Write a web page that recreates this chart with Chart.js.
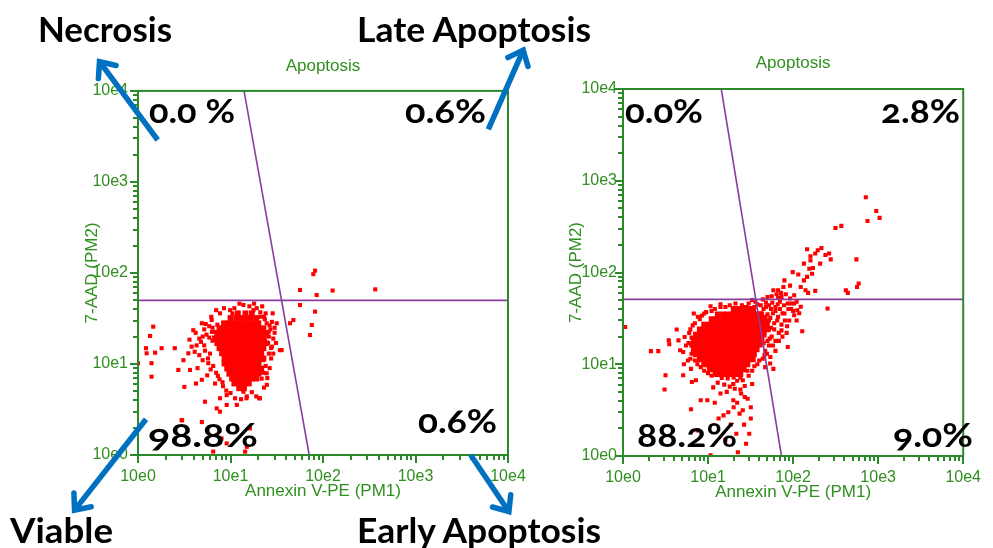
<!DOCTYPE html>
<html>
<head>
<meta charset="utf-8">
<title>Apoptosis</title>
<script src="https://cdn.jsdelivr.net/npm/chart.js@4.4.1/dist/chart.umd.min.js"></script>
<style>
  body { margin: 0; background: #fff; }
  #page { position: relative; width: 993px; height: 548px; overflow: hidden; background: #fff; }
  #leftPlot { position: absolute; left: 0; top: 0; }
  #rightPlot { position: absolute; left: 560px; top: 0; }
  #overlay { position: absolute; left: 0; top: 0; pointer-events: none; }
  #overlay text { font-family: Lato, 'Open Sans', sans-serif; font-weight: bold; fill: #000; }
  #overlay text.pct { font-variant-numeric: oldstyle-nums; font-feature-settings: "onum" 1; }
</style>
</head>
<body>
<div id="page">
  <canvas id="leftPlot" width="560" height="548"></canvas>
  <canvas id="rightPlot" width="433" height="548"></canvas>
  <svg id="overlay" width="993" height="548" xmlns="http://www.w3.org/2000/svg"></svg>
</div>
<script>
// ---- 축 / 라벨 ----
const plotTitle = 'Apoptosis';
const xAxisTitle = 'Annexin V-PE (PM1)';
const yAxisTitle = '7-AAD (PM2)';
const decadeValues = [1, 10, 100, 1000, 10000];
const decadeLabels = ['10e0', '10e1', '10e2', '10e3', '10e4'];
const minorSteps = [2, 3, 4, 5, 6, 7, 8, 9];

// ---- 게이트 (사분면 경계) ----
const leftGateY = 50;
const leftGateSlant = [[71, 1], [14, 10000]];
const rightGateY = 51;
const rightGateSlant = [[73, 1], [14.3, 10000]];

// ---- 사분면 비율: 좌상, 우상, 좌하, 우하 ----
const quadrantNames = ['Necrosis', 'Late Apoptosis', 'Viable', 'Early Apoptosis'];
const leftPercents = ['0.0 %', '0.6%', '98.8%', '0.6%'];
const rightPercents = ['0.0%', '2.8%', '88.2%', '9.0%'];

// ---- 왼쪽 그래프: 밀집 영역 [y, [x...]] ----
const leftCoreRows = [
  [36, [12, 14.5, 17]],
  [32, [10, 11.5, 13, 14.7, 16.6, 19]],
  [28, [8.5, 9.6, 10.8, 12.2, 13.8, 15.6, 17.6, 20]],
  [24.7, [7.6, 8.6, 9.7, 11, 12.4, 14, 15.8, 17.8, 20.1, 22.7]],
  [21.8, [7.2, 8.1, 9.2, 10.4, 11.7, 13.2, 14.9, 16.8, 19, 21.5, 24.3]],
  [19.2, [6.8, 7.7, 8.7, 9.8, 11.1, 12.5, 14.1, 15.9, 18, 20.3, 23]],
  [16.9, [7.2, 8.1, 9.2, 10.4, 11.7, 13.2, 14.9, 16.8, 19, 21.5, 24.3]],
  [14.9, [7.6, 8.6, 9.7, 11, 12.4, 14, 15.8, 17.8, 20.1, 22.7]],
  [13.1, [8.1, 9.2, 10.4, 11.7, 13.2, 14.9, 16.8, 19, 21.5]],
  [11.5, [8.6, 9.7, 11, 12.4, 14, 15.8, 17.8, 20.1, 22.7]],
  [10.1, [8.6, 9.7, 11, 12.4, 14, 15.8, 17.8, 20.1]],
  [8.9, [9.2, 10.4, 11.7, 13.2, 14.9, 16.8, 19, 21.5]],
  [7.8, [9.7, 11, 12.4, 14, 15.8, 17.8, 20.1]],
  [6.9, [10.4, 11.7, 13.2, 14.9, 16.8, 19]],
  [6.1, [11, 12.4, 14, 15.8]],
  [5.4, [12.4, 14]]
];
// 왼쪽 그래프: 흩어진 이벤트 [x, y]
const leftEvents = [
  [1.0, 10.2], [1.22, 14.9], [1.24, 13.1], [1.35, 20.3], [1.46, 25.7], [1.4, 10.2], [1.4, 7.25],
  [1.53, 13.3], [1.8, 14.9], [2.5, 14.9], [2.73, 8.6], [3.1, 11], [3.17, 5.6], [3.5, 13.1],
  [3.65, 8.6], [3.96, 23.5], [4.1, 13.6], [4.23, 6.1], [4.9, 28], [4.9, 6.7], [5.3, 3.85],
  [5.75, 10.2], [6.26, 30.4], [7.7, 36], [9.9, 39], [13.8, 44.5], [17.7, 39], [19.2, 41],
  [20.8, 33], [24.6, 28], [28, 15.5], [22.6, 11], [24.6, 7.9], [20.4, 4.2], [15, 4.4],
  [13.8, 4.96], [11.2, 4.2], [9.1, 4.55], [7.7, 4.2], [7.1, 3.25], [7.7, 2.99], [9.1, 3.55],
  [6.8, 6.1], [11.7, 3.55], [35.7, 14.2], [44, 28], [47.8, 30.4], [56.4, 65], [56.4, 44.4],
  [75.7, 26.8], [72.3, 20.8], [82, 37.6], [85.5, 57.2], [78.6, 97], [82, 106], [127, 64],
  [367, 66], [2.96, 2.42], [4.9, 2.3], [7.1, 1.66], [7.7, 1.4], [9.1, 1.34], [15, 1.23],
  [6.5, 1.09], [14.4, 1.09], [16.2, 1.96], [8, 1.52], [14.9, 4.2], [20.8, 4.2], [24.7, 5.9],
  [21.7, 6.9], [28.6, 36], [31.6, 28], [34.2, 14.2], [3.0, 2.4],
  [5.2, 16], [5.5, 21], [5.9, 26], [6.4, 18], [6, 13], [5.7, 11.5], [6.5, 9.5], [7, 8],
  [7.6, 6.8], [8.3, 5.7], [9, 5.1], [26, 20], [27, 24], [25.5, 17], [26, 13], [27.5, 11.5],
  [24, 9.5], [22.5, 8], [23, 5.5], [17, 4.9], [10.5, 36], [11, 41], [16, 43], [21, 37],
  [23.5, 31], [26.5, 26.5], [29, 19], [30, 22], [6.9, 22.5], [7.2, 27], [6.4, 25],
  [4.3, 16], [4.6, 19], [5, 11], [4.4, 9], [3.8, 15.5], [5.6, 7.5], [5.2, 24], [4.6, 12.5],
  [5.0, 20], [5.4, 27.5], [6.2, 33], [7.0, 39], [8.5, 41], [12.5, 46], [18, 46], [22, 43],
  [24, 36], [28, 29], [30, 25], [31, 17], [29, 13], [26.5, 9], [25, 7], [19, 4.4], [13, 4.1],
  [10, 4.8], [8.2, 6.3], [7.3, 7.4], [6.1, 8.7], [5.3, 14], [4.8, 17.5], [5.9, 19.5],
  [6.3, 22.5], [23, 33], [25.8, 22.5], [27.5, 15], [4.2, 22], [3.6, 18.5]
];

// ---- 오른쪽 그래프: 밀집 영역 [y, [x...]] ----
const rightCoreRows = [
  [40, [20, 23, 26, 30, 34]],
  [35, [13, 15, 17, 19.5, 22, 25, 28.5, 32.5, 37, 42]],
  [31, [11, 12.5, 14.3, 16.3, 18.5, 21, 24, 27.5, 31, 35.5, 40.5, 46]],
  [27, [9, 10.3, 11.7, 13.3, 15.2, 17.3, 19.7, 22.5, 25.6, 29, 33, 37.7, 43, 49]],
  [24, [8, 9.1, 10.4, 11.8, 13.5, 15.4, 17.5, 20, 22.7, 25.9, 29.5, 33.6, 38.3, 43.6, 50]],
  [21, [7.2, 8.2, 9.4, 10.7, 12.2, 13.9, 15.8, 18, 20.5, 23.4, 26.7, 30.4, 34.6, 39.5, 45]],
  [18.6, [6.8, 7.8, 8.9, 10.1, 11.5, 13.1, 15, 17, 19.4, 22.1, 25.2, 28.7, 32.7, 37.3, 42.5]],
  [16.4, [6.5, 7.4, 8.4, 9.6, 10.9, 12.5, 14.2, 16.2, 18.5, 21, 24, 27.3, 31.1, 35.5, 40.5]],
  [14.5, [6.8, 7.8, 8.9, 10.1, 11.5, 13.1, 15, 17, 19.4, 22.1, 25.2, 28.7, 32.7, 37.3]],
  [12.8, [7.2, 8.2, 9.4, 10.7, 12.2, 13.9, 15.8, 18, 20.5, 23.4, 26.7, 30.4, 34.6]],
  [11.3, [8, 9.1, 10.4, 11.8, 13.5, 15.4, 17.5, 20, 22.7, 25.9, 29.5, 33.6]],
  [10, [9, 10.3, 11.7, 13.3, 15.2, 17.3, 19.7, 22.5, 25.6, 29]],
  [8.8, [10.5, 12, 13.7, 15.6, 17.8, 20.3, 23.1, 26.3]],
  [7.8, [12.5, 14.3, 16.3, 18.5, 21, 24]]
];
// 오른쪽 그래프: 흩어진 이벤트 [x, y]
const rightEvents = [
  [1.06, 25.5], [2.13, 13.9], [2.6, 13.9], [3.16, 7.6], [3.08, 5.3], [3.45, 18.2], [3.5, 16.5],
  [4.28, 23.9], [4.49, 18.2], [5.1, 7.6], [6.3, 3.23], [6.45, 6.4], [7.2, 6.7], [7.55, 1.9],
  [6.8, 35.8], [8.2, 4.05], [9.8, 4.05], [10.7, 1.02], [13.3, 2.56], [15.2, 2.77], [17.3, 3.0],
  [19.8, 4.05], [21.5, 1.75], [22.4, 1.1], [23.5, 2.9], [25.6, 3.15], [28, 1.36], [30.5, 1.75],
  [31.8, 2.56], [29.2, 4.2], [31.8, 3.4], [14, 4.8], [16.6, 5.0], [20.6, 5.4], [24.5, 4.8],
  [19.8, 6.1], [33, 6.1], [25.6, 6.7], [53.7, 10.2], [58.6, 8.9], [47, 9.3], [49.3, 13],
  [86.5, 15.4], [128, 22.9], [73, 23.4], [73, 27], [66.6, 32.8], [79, 35.7], [103, 34.2],
  [112, 38.8], [123, 42.3], [103, 46], [86.5, 46], [73, 54.2], [66.6, 64], [77, 69.5],
  [79, 82], [99, 101], [103, 56.5], [123, 69.5], [134, 82], [146, 89.5], [140, 64], [182, 63],
  [134, 125], [160, 135], [171, 112], [182, 161], [195, 175], [146, 179], [208, 125], [167, 97],
  [265, 161], [277, 139], [254, 40.5], [417, 64], [440, 60], [555, 139], [565, 69.5], [590, 76],
  [315, 306], [369, 322], [716, 660], [950, 468], [1040, 394], [750, 364], [41.6, 44], [33, 50],
  [44, 51], [58.6, 64], [66.6, 53], [10.7, 42.8], [14, 42], [9, 35.7], [6.6, 26.5], [5.3, 19.8],
  [5.1, 13.6], [5.8, 11], [6.3, 8.9], [5.2, 10], [4.7, 14.2],
  [5.5, 16], [6, 22], [7, 28], [8, 31], [9.5, 37], [12, 40], [16, 42], [25, 44], [38, 45],
  [45, 40], [50, 35], [52, 30], [55, 25], [56, 20], [52, 16], [47, 14], [44, 11.5], [38, 10],
  [33, 8.5], [30, 7.5], [27, 5.8], [22, 6.6], [11, 7.5], [9, 8.5], [7.5, 10], [6.2, 11.5],
  [60, 28], [62, 38], [57, 47], [48, 47], [36, 48], [30, 46], [11.5, 5.6], [13, 6.3], [17, 7],
  [12, 3.8], [18.5, 2.2], [20, 3.4], [26.5, 2.2], [16, 1.5], [62, 18], [68, 22], [90, 30],
  [95, 40], [110, 48], [150, 60], [92, 72], [115, 95], [160, 150], [215, 185], [240, 155],
  [155, 110], [40, 30], [43, 26], [46, 22], [50, 27], [54, 32], [58, 36], [62, 42], [66, 45],
  [70, 40], [75, 36], [80, 30], [85, 26], [60, 24], [65, 30], [55, 40], [48, 42], [42, 36],
  [52, 44], [70, 48], [78, 44], [88, 40], [95, 46], [100, 38], [58, 16], [62, 14], [54, 12],
  [45, 17], [68, 18], [75, 20], [84, 22], [110, 30], [118, 36], [92, 52], [82, 58], [72, 60],
  [64, 58], [56, 55], [50, 54],
  [5.9, 17], [6.4, 19.5], [6.2, 24], [7.6, 33], [8.5, 34], [11, 38], [14, 45], [18, 44],
  [21, 46], [28, 42], [35, 42], [47, 33], [52, 24], [53, 19], [50, 18], [46, 12.5], [40, 11],
  [35, 9.5], [29, 8.5], [24, 7.2], [20, 7.2], [14.5, 7.1], [12, 8], [10, 8], [8.2, 9.3],
  [7, 11], [6.4, 13], [6.9, 15.5], [24, 5.3], [18, 5.7], [15.5, 6], [27, 4.4], [22, 3.8]
];

// ---- 색상 ----
const textGreen = '#2f8f1f';
const frameGreen = '#2a8a2a';
const gatePurple = '#8b3d9e';
const eventRed = '#ff0000';
const arrowBlue = '#0070c0';

// 로그 축 눈금: 10의 거듭제곱 + 2~9 보조 눈금
const axisTicks = [];
decadeValues.forEach(d => {
  axisTicks.push(d);
  if (d < 10000) minorSteps.forEach(m => axisTicks.push(d * m));
});
const tickLabel = v => {
  const i = decadeValues.indexOf(v);
  return i >= 0 ? decadeLabels[i] : '';
};

// 테두리와 바깥쪽 눈금선을 그리는 플러그인
const frameTicks = {
  id: 'frameTicks',
  afterDraw(chart) {
    const { ctx, chartArea: a } = chart;
    const x = chart.scales.x, y = chart.scales.y;
    ctx.save();
    ctx.strokeStyle = frameGreen;
    ctx.lineWidth = 2;
    ctx.strokeRect(a.left, a.top, a.right - a.left, a.bottom - a.top);
    ctx.lineWidth = 2;
    axisTicks.forEach(v => {
      const len = decadeValues.includes(v) ? 8 : 5;
      const px = Math.round(x.getPixelForValue(v));
      const py = Math.round(y.getPixelForValue(v));
      ctx.beginPath();
      ctx.moveTo(px, a.bottom);
      ctx.lineTo(px, a.bottom + len);
      ctx.moveTo(a.left, py);
      ctx.lineTo(a.left - len, py);
      ctx.stroke();
    });
    ctx.restore();
  }
};

const axisFont = { family: "'Liberation Sans', Arial, sans-serif", size: 16 };
const titleFont = { family: "'Liberation Sans', Arial, sans-serif", size: 17 };

function makePlot(id, cfg) {
  const core = [];
  cfg.coreRows.forEach(([y, xs]) => xs.forEach(x => core.push({ x: x, y: y })));
  const events = cfg.events.map(([x, y]) => ({ x: x, y: y }));
  const gateLine = pts => ({
    type: 'line',
    data: pts.map(([x, y]) => ({ x: x, y: y })),
    borderColor: gatePurple,
    borderWidth: 1.6,
    pointRadius: 0,
    fill: false,
    order: 0
  });
  return new Chart(document.getElementById(id), {
    type: 'scatter',
    data: {
      datasets: [
        gateLine([[1, cfg.gateY], [10000, cfg.gateY]]),
        gateLine(cfg.gateSlant),
        { data: core, pointStyle: 'rect', pointRadius: 4.1, pointBorderWidth: 0,
          backgroundColor: eventRed, order: 1 },
        { data: events, pointStyle: 'rect', pointRadius: 2.9, pointBorderWidth: 0,
          backgroundColor: eventRed, order: 1 }
      ]
    },
    options: {
      responsive: false,
      animation: false,
      layout: { padding: cfg.padding },
      plugins: {
        legend: { display: false },
        tooltip: { enabled: false },
        title: {
          display: true, text: plotTitle, color: textGreen, fullSize: false,
          font: { family: titleFont.family, size: 17, weight: 'normal' },
          padding: cfg.titlePad
        }
      },
      scales: {
        x: {
          type: 'logarithmic', min: 1, max: 10000,
          afterBuildTicks: s => { s.ticks = axisTicks.map(v => ({ value: v })); },
          afterFit: s => { s.height = 48; },
          grid: { display: false, drawTicks: false },
          border: { display: false },
          ticks: { autoSkip: false, maxRotation: 0, padding: 12, color: textGreen,
                   font: axisFont, callback: tickLabel },
          title: { display: true, text: xAxisTitle, color: textGreen, font: titleFont,
                   padding: { top: 0, bottom: 1 } }
        },
        y: {
          type: 'logarithmic', min: 1, max: 10000,
          afterBuildTicks: s => { s.ticks = axisTicks.map(v => ({ value: v })); },
          afterFit: s => { s.width = cfg.yWidth; },
          grid: { display: false, drawTicks: false },
          border: { display: false },
          ticks: { autoSkip: false, padding: cfg.yTickPad, color: textGreen,
                   font: axisFont, callback: tickLabel },
          title: { display: true, text: yAxisTitle, color: textGreen, font: titleFont,
                   padding: { top: 0, bottom: 0 } }
        }
      }
    },
    plugins: [frameTicks]
  });
}

makePlot('leftPlot', {
  coreRows: leftCoreRows, events: leftEvents,
  gateY: leftGateY, gateSlant: leftGateSlant,
  padding: { left: 82, right: 52, top: 0, bottom: 45 },
  titlePad: { top: 56.5, bottom: 14 },
  yWidth: 56, yTickPad: 10
});

makePlot('rightPlot', {
  coreRows: rightCoreRows, events: rightEvents,
  gateY: rightGateY, gateSlant: rightGateSlant,
  padding: { left: 6, right: 19, top: 0, bottom: 44 },
  titlePad: { top: 53, bottom: 15.6 },
  yWidth: 57, yTickPad: 6
});

// ---- 큰 글씨와 화살표 (SVG 오버레이) ----
const svgNS = 'http://www.w3.org/2000/svg';
const overlay = document.getElementById('overlay');
function addText(str, x, y, size, width, cls) {
  const t = document.createElementNS(svgNS, 'text');
  t.setAttribute('x', x);
  t.setAttribute('y', y);
  t.setAttribute('font-size', size);
  t.setAttribute('textLength', width);
  t.setAttribute('lengthAdjust', 'spacingAndGlyphs');
  if (cls) t.setAttribute('class', cls);
  t.textContent = str;
  overlay.appendChild(t);
}
// 이름: x, 기준선, 폭
const namePlaces = [[38, 42, 134], [357, 42, 234], [10, 543, 103], [357, 543, 244]];
quadrantNames.forEach((n, i) => addText(n, namePlaces[i][0], namePlaces[i][1], 34, namePlaces[i][2]));
const leftPctPlaces = [[149, 123, 86], [405, 123, 81], [148, 447, 110], [418, 433, 79]];
const rightPctPlaces = [[625, 123, 78], [881, 123, 79], [637, 447, 100], [893, 447, 80]];
leftPercents.forEach((p, i) => addText(p, leftPctPlaces[i][0], leftPctPlaces[i][1], 32, leftPctPlaces[i][2], 'pct'));
rightPercents.forEach((p, i) => addText(p, rightPctPlaces[i][0], rightPctPlaces[i][1], 32, rightPctPlaces[i][2], 'pct'));

// 화살표: 꼬리 x, y, 머리 x, y
const arrowPlaces = [[157.7, 140, 98.3, 60], [488.3, 129.3, 524, 48.3], [146, 419.3, 73.3, 511.7], [470.7, 455, 510, 513.3]];
arrowPlaces.forEach(([tx, ty, hx, hy]) => {
  const len = Math.hypot(hx - tx, hy - ty);
  const dx = (hx - tx) / len, dy = (hy - ty) / len;
  const line = document.createElementNS(svgNS, 'line');
  line.setAttribute('x1', tx); line.setAttribute('y1', ty);
  line.setAttribute('x2', hx - dx * 3); line.setAttribute('y2', hy - dy * 3);
  line.setAttribute('stroke', arrowBlue); line.setAttribute('stroke-width', 5.5);
  overlay.appendChild(line);
  const back = 15, side = 11;
  const p1 = [hx - dx * back - dy * side, hy - dy * back + dx * side];
  const p2 = [hx - dx * back + dy * side, hy - dy * back - dx * side];
  const head = document.createElementNS(svgNS, 'polyline');
  head.setAttribute('points', `${p1[0]},${p1[1]} ${hx - dx * 2},${hy - dy * 2} ${p2[0]},${p2[1]}`);
  head.setAttribute('fill', 'none');
  head.setAttribute('stroke', arrowBlue);
  head.setAttribute('stroke-width', 5.5);
  head.setAttribute('stroke-linejoin', 'miter');
  head.setAttribute('stroke-linecap', 'round');
  overlay.appendChild(head);
});
</script>
</body>
</html>
